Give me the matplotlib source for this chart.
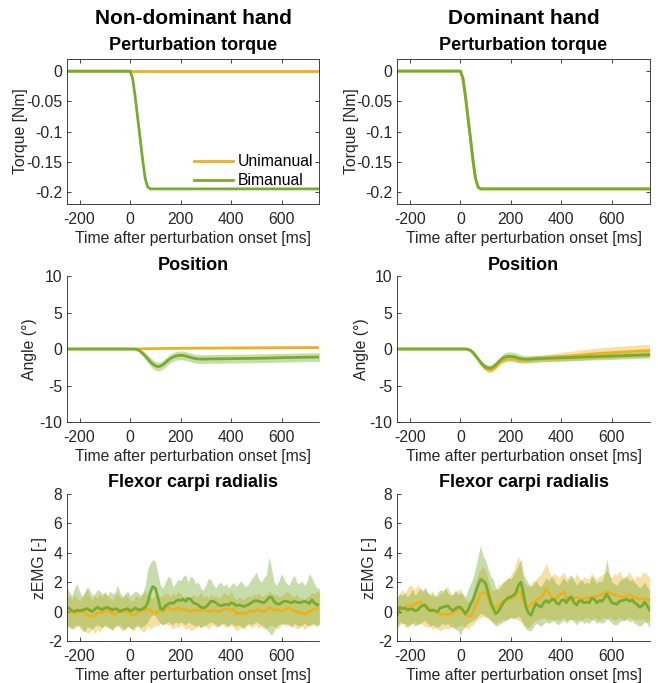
import numpy as np
import matplotlib
matplotlib.use("Agg")
import matplotlib.pyplot as plt
from matplotlib.ticker import FixedLocator, FixedFormatter

plt.rcParams["font.family"] = ["Liberation Sans", "DejaVu Sans"]
plt.rcParams["axes.unicode_minus"] = False

UNI = "#EDB120"
BI = "#77AC30"
AX = "#262626"
FS = 11.3
TFS = 13

# ---------------------------------------------------------------- data
time_ms = np.arange(-250, 751, 10)

x_ticks = [-200, 0, 200, 400, 600]
x_ticklabels = ["-200", "0", "200", "400", "600"]
torque_ticks = [-0.2, -0.15, -0.1, -0.05, 0]
torque_ticklabels = ["-0.2", "-0.15", "-0.1", "-0.05", "0"]
angle_ticks = [-10, -5, 0, 5, 10]
angle_ticklabels = ["-10", "-5", "0", "5", "10"]
emg_ticks = [-2, 0, 2, 4, 6, 8]
emg_ticklabels = ["-2", "0", "2", "4", "6", "8"]

conditions = ["Unimanual", "Bimanual"]
hands = ["Non-dominant hand", "Dominant hand"]

# perturbation torque [Nm]
torque_nd_uni = [0.0] * 101
torque_nd_bi = ([0.0] * 26
                + [-0.012, -0.042, -0.077, -0.112, -0.148, -0.178, -0.192, -0.195]
                + [-0.195] * 67)
torque_d_uni = ([0.0] * 26
                + [-0.012, -0.042, -0.077, -0.112, -0.148, -0.178, -0.192, -0.195]
                + [-0.195] * 67)
torque_d_bi = ([0.0] * 26
               + [-0.012, -0.042, -0.077, -0.112, -0.148, -0.178, -0.192, -0.195]
               + [-0.195] * 67)

# wrist angle [deg], mean and spread
pos_nd_uni = ([0.0] * 28
              + [0.0, 0.01, 0.02, 0.03, 0.04, 0.05, 0.05, 0.06, 0.06, 0.07,
                 0.07, 0.08, 0.08, 0.08, 0.09, 0.09, 0.09, 0.1]
              + [0.1, 0.1, 0.1, 0.11, 0.11, 0.11, 0.11, 0.12, 0.12, 0.12,
                 0.12, 0.12, 0.13, 0.13, 0.13, 0.13, 0.13, 0.14, 0.14, 0.14]
              + [0.14, 0.14, 0.15, 0.15, 0.15, 0.15, 0.15, 0.16, 0.16, 0.16,
                 0.16, 0.16, 0.17, 0.17, 0.17, 0.17, 0.17, 0.18, 0.18, 0.18,
                 0.18, 0.18, 0.18, 0.19, 0.19, 0.19, 0.19, 0.19, 0.19, 0.2,
                 0.2, 0.2, 0.2, 0.2, 0.2])
pos_nd_uni_sd = [0.0] * 28 + [0.04] * 73

pos_nd_bi = ([0.0] * 27
             + [-0.02, -0.1, -0.3, -0.6, -0.95, -1.35, -1.75, -2.05, -2.3, -2.4,
                -2.35, -2.15, -1.85, -1.55, -1.3, -1.1, -0.97, -0.9, -0.86, -0.88,
                -0.95, -1.05, -1.15, -1.25, -1.32, -1.36, -1.38, -1.38, -1.37]
             + [-1.36, -1.36, -1.35, -1.35, -1.35, -1.34, -1.34, -1.33, -1.33, -1.32,
                -1.32, -1.31, -1.31, -1.3, -1.3, -1.29, -1.29, -1.28, -1.28, -1.27,
                -1.27, -1.26, -1.25, -1.25, -1.24, -1.23, -1.22, -1.21, -1.2, -1.19,
                -1.18, -1.17, -1.17, -1.16, -1.15, -1.15, -1.14, -1.13, -1.13, -1.12,
                -1.12, -1.11, -1.11, -1.1, -1.1])
pos_nd_bi_sd = ([0.0] * 27 + [0.05, 0.12, 0.25, 0.35, 0.45, 0.5]
                + [0.6] * 23 + [0.6] * 45)

pos_d_uni = ([0.0] * 28
             + [-0.05, -0.2, -0.5, -0.95, -1.4, -1.9, -2.35, -2.65, -2.85, -2.9,
                -2.75, -2.45, -2.1, -1.75, -1.5, -1.35, -1.28, -1.28, -1.32, -1.4,
                -1.48, -1.52, -1.52, -1.5, -1.47, -1.42, -1.38, -1.35]
             + [-1.32, -1.29, -1.26, -1.23, -1.2, -1.17, -1.14, -1.11, -1.08, -1.05,
                -1.02, -0.99, -0.96, -0.93, -0.9, -0.87, -0.84, -0.81, -0.78, -0.75,
                -0.72, -0.69, -0.66, -0.63, -0.6, -0.58, -0.56, -0.54, -0.52, -0.5,
                -0.48, -0.46, -0.44, -0.42, -0.4, -0.38, -0.36, -0.34, -0.32, -0.3,
                -0.28, -0.26, -0.24, -0.22, -0.2])
pos_d_uni_sd = ([0.0] * 28 + [0.05, 0.1, 0.15, 0.2, 0.25, 0.3] + [0.35] * 8 + [0.4] * 14
                + [0.42, 0.44, 0.46, 0.48, 0.5, 0.52, 0.54, 0.56, 0.58, 0.6,
                   0.61, 0.62, 0.63, 0.64, 0.65, 0.66, 0.67, 0.68, 0.69, 0.7,
                   0.71, 0.72, 0.73, 0.74, 0.75, 0.76, 0.77, 0.78, 0.79, 0.8,
                   0.8, 0.81, 0.81, 0.82, 0.82, 0.83, 0.83, 0.84, 0.84, 0.85,
                   0.85, 0.85, 0.85, 0.85, 0.85])

pos_d_bi = ([0.0] * 28
            + [-0.05, -0.2, -0.5, -0.9, -1.35, -1.8, -2.2, -2.45, -2.6, -2.6,
               -2.45, -2.15, -1.8, -1.45, -1.2, -1.05, -1.0, -1.0, -1.05, -1.15,
               -1.25, -1.32, -1.37, -1.4, -1.4, -1.38, -1.36, -1.33]
            + [-1.32, -1.31, -1.29, -1.28, -1.27, -1.26, -1.24, -1.23, -1.22, -1.2,
               -1.19, -1.18, -1.17, -1.16, -1.15, -1.13, -1.12, -1.11, -1.1, -1.08,
               -1.07, -1.06, -1.05, -1.04, -1.03, -1.02, -1.0, -0.99, -0.98, -0.97,
               -0.96, -0.95, -0.93, -0.92, -0.91, -0.9, -0.88, -0.87, -0.86, -0.85,
               -0.84, -0.83, -0.82, -0.81, -0.8])
pos_d_bi_sd = ([0.0] * 28 + [0.05, 0.1, 0.15, 0.2, 0.25, 0.3] + [0.4] * 8
               + [0.6] * 7 + [0.5] * 7 + [0.45] * 45)

# flexor carpi radialis zEMG: mean, lower and upper bound
emg_nd_uni = [
    0.0, 0.05, -0.05, -0.1, -0.05, 0.0, 0.05, -0.05, -0.25, -0.3,
    -0.3, -0.25, -0.1, -0.05, -0.05, 0.05, 0.1, 0.0, -0.15, -0.2,
    -0.05, 0.1, 0.05, -0.05, 0.0, -0.1, -0.25, -0.2, -0.05, 0.0,
    0.05, 0.1, 0.15, 0.1, -0.05, -0.1, 0.0, 0.05, 0.0, 0.2,
    0.3, 0.2, 0.1, 0.15, 0.25, 0.2, 0.1, 0.15, 0.05, 0.0,
    0.1, 0.1, 0.05, 0.1, 0.15, 0.1, 0.0, 0.05, 0.1, 0.05,
    0.0, 0.05, 0.15, 0.2, 0.15, 0.1, 0.15, -0.15, -0.1, -0.15,
    -0.1, -0.15, 0.0, 0.05, 0.0, 0.1, 0.15, 0.05, 0.0, 0.1,
    0.3, 0.2, 0.1, 0.15, 0.1, 0.05, 0.1, 0.2, 0.25, 0.15,
    0.05, 0.0, -0.05, -0.1, -0.15, -0.15, 0.0, 0.1, 0.15, 0.2,
    0.25]
emg_nd_uni_hi = [
    0.9, 1.1, 0.8, 1.2, 0.9, 0.7, 1.0, 1.3, 1.5, 1.0,
    0.8, 1.1, 0.9, 1.2, 1.0, 1.4, 1.1, 0.9, 0.8, 1.1,
    1.3, 1.0, 0.9, 1.2, 1.0, 0.8, 0.7, 1.0, 1.1, 0.9,
    1.2, 1.4, 1.1, 1.0, 0.9, 1.2, 0.8, 1.0, 1.1, 1.3,
    1.2, 1.0, 1.3, 1.1, 1.4, 1.2, 1.0, 1.1, 0.9, 1.0,
    1.2, 1.0, 1.1, 1.3, 1.0, 1.1, 0.9, 1.2, 1.0, 1.1,
    0.9, 1.0, 1.3, 1.2, 1.1, 1.4, 1.0, 0.8, 1.0, 0.9,
    0.8, 1.0, 1.1, 1.0, 1.2, 1.1, 1.3, 1.0, 1.1, 1.2,
    1.4, 1.3, 1.1, 1.2, 1.0, 1.1, 1.2, 1.4, 1.3, 1.1,
    1.0, 1.2, 0.9, 1.0, 0.8, 1.0, 1.1, 1.3, 1.2, 1.4,
    1.3]
emg_nd_uni_lo = [
    -0.9, -1.0, -1.1, -1.2, -1.0, -0.9, -1.1, -1.3, -1.5, -1.4,
    -1.2, -1.5, -1.2, -1.4, -1.1, -1.0, -1.1, -1.2, -1.3, -1.1,
    -1.0, -0.9, -1.1, -1.2, -1.0, -1.1, -1.3, -1.2, -1.0, -1.2,
    -1.4, -1.3, -1.0, -1.2, -1.1, -0.9, -1.0, -0.8, -0.9, -0.8,
    -0.9, -1.0, -1.2, -1.0, -1.1, -0.9, -1.0, -1.2, -1.1, -1.3,
    -1.2, -1.1, -1.0, -1.1, -0.9, -1.0, -1.2, -1.0, -0.9, -1.1,
    -1.0, -0.8, -0.9, -1.1, -1.0, -0.9, -1.1, -1.3, -1.2, -1.1,
    -1.2, -1.0, -0.9, -1.1, -1.0, -0.9, -1.1, -1.0, -1.2, -1.1,
    -1.0, -0.9, -1.0, -1.2, -1.1, -0.9, -0.8, -1.0, -0.9, -1.1,
    -1.0, -1.2, -1.1, -1.0, -1.2, -1.1, -0.9, -1.0, -0.8, -0.9,
    -0.8]

emg_nd_bi = [
    0.3, 0.2, 0.05, 0.0, 0.1, 0.05, 0.1, 0.15, 0.2, 0.1,
    0.0, 0.15, 0.3, 0.2, 0.15, 0.25, 0.3, 0.2, 0.1, 0.2,
    0.15, 0.0, 0.1, 0.15, 0.2, 0.05, 0.1, 0.25, 0.15, 0.1,
    0.2, 0.3, 0.6, 1.3, 1.7, 1.6, 1.0, 0.2, 0.15, 0.4,
    0.5, 0.6, 0.55, 0.7, 0.8, 0.75, 0.85, 0.7, 0.9, 0.85,
    0.6, 0.55, 0.45, 0.3, 0.25, 0.3, 0.5, 0.7, 0.7, 0.6,
    0.45, 0.4, 0.45, 0.5, 0.45, 0.6, 0.55, 0.4, 0.45, 0.4,
    0.35, 0.4, 0.5, 0.6, 0.7, 0.75, 0.7, 0.65, 0.6, 0.75,
    0.95, 1.0, 0.7, 0.55, 0.5, 0.6, 0.7, 0.7, 0.65, 0.6,
    0.7, 0.65, 0.6, 0.65, 0.7, 0.65, 0.55, 0.8, 0.6, 0.45,
    0.5]
emg_nd_bi_hi = [
    1.7, 1.3, 1.1, 1.6, 1.9, 1.4, 1.0, 1.3, 1.7, 1.5,
    1.1, 1.2, 1.5, 1.4, 1.2, 1.3, 1.1, 1.4, 1.2, 1.3,
    1.8, 1.3, 1.0, 1.2, 1.4, 1.1, 1.2, 1.4, 1.3, 1.1,
    1.3, 1.8, 2.9, 3.3, 3.55, 3.4, 2.6, 1.8, 1.6, 2.0,
    2.4, 2.3, 1.7, 1.9, 2.2, 2.1, 2.4, 2.5, 2.0, 2.4,
    2.3, 1.9, 2.0, 1.6, 1.45, 1.8, 2.25, 2.2, 1.8, 1.6,
    1.9, 2.0, 1.7, 1.9, 1.6, 1.8, 2.0, 1.7, 1.9, 2.1,
    1.8, 1.7, 1.9, 2.2, 2.4, 2.7, 2.2, 2.0, 2.3, 2.5,
    3.7, 3.0, 2.0, 1.8, 2.1, 2.6, 2.2, 1.9, 1.8, 2.2,
    2.5, 2.0, 1.9, 2.1, 1.8, 2.0, 2.6, 2.3, 1.9, 1.6,
    1.6]
emg_nd_bi_lo = [
    -1.0, -1.1, -1.2, -1.0, -0.9, -1.1, -1.3, -1.4, -1.0, -1.1,
    -1.2, -1.0, -0.9, -1.0, -1.1, -0.9, -1.0, -1.1, -1.2, -1.0,
    -0.9, -1.1, -1.3, -1.2, -1.0, -1.1, -1.2, -1.0, -0.9, -1.1,
    -1.0, -0.9, -0.7, -0.4, -0.2, -0.3, -0.6, -0.8, -0.9, -0.8,
    -0.7, -0.8, -0.9, -0.7, -0.8, -0.7, -0.8, -0.9, -0.7, -0.8,
    -0.9, -1.0, -0.9, -1.1, -1.0, -0.9, -0.8, -0.7, -0.8, -0.9,
    -1.0, -0.9, -0.8, -0.9, -1.0, -0.8, -0.9, -1.0, -0.9, -1.0,
    -1.1, -0.9, -0.8, -0.9, -0.8, -0.7, -0.8, -0.9, -1.0, -1.2,
    -1.4, -1.6, -1.3, -1.0, -0.9, -0.8, -0.9, -0.8, -0.9, -1.0,
    -0.8, -0.9, -1.0, -0.9, -0.8, -0.9, -1.0, -0.8, -0.9, -1.0,
    -0.9]

emg_d_uni = [
    0.0, 0.1, 0.2, 0.3, 0.35, 0.4, 0.45, 0.5, 0.6, 0.65,
    0.5, 0.35, 0.3, 0.2, 0.15, 0.05, -0.1, -0.2, -0.2, -0.15,
    -0.2, -0.15, -0.1, 0.0, 0.15, 0.2, 0.0, -0.2, -0.3, -0.35,
    -0.1, 0.4, 0.8, 1.2, 1.3, 1.3, 0.9, 0.4, 0.2, 0.25,
    0.4, 0.55, 0.7, 0.8, 0.85, 0.9, 1.0, 1.1, 1.4, 1.2,
    0.7, 0.4, 0.3, 0.5, 0.6, 0.8, 0.85, 1.0, 1.2, 1.55,
    1.3, 1.0, 0.8, 0.9, 1.1, 1.2, 1.35, 0.9, 0.8, 0.85,
    0.9, 1.0, 0.9, 0.85, 0.9, 0.95, 0.9, 1.0, 1.05, 1.0,
    1.1, 1.2, 1.25, 1.35, 1.3, 1.2, 1.15, 1.1, 1.05, 1.0,
    1.0, 1.1, 1.2, 1.0, 0.95, 0.9, 0.9, 0.85, 0.9, 0.85,
    0.75]
emg_d_uni_hi = [
    1.0, 1.3, 1.5, 1.2, 1.6, 1.8, 1.7, 1.5, 1.8, 1.6,
    1.4, 1.5, 1.3, 1.2, 1.4, 1.1, 1.0, 1.3, 1.2, 1.6,
    1.7, 1.3, 1.1, 1.5, 1.4, 1.6, 1.1, 0.8, 0.7, 0.8,
    1.3, 2.0, 2.6, 2.9, 3.1, 2.8, 2.2, 1.6, 1.4, 1.5,
    1.8, 1.9, 2.0, 2.2, 2.3, 2.5, 2.8, 3.3, 3.8, 3.0,
    2.2, 1.8, 1.7, 1.9, 2.1, 2.2, 2.4, 2.6, 2.9, 3.3,
    2.8, 2.4, 2.6, 2.5, 2.3, 2.5, 2.7, 2.3, 2.1, 2.4,
    2.2, 2.6, 2.3, 2.1, 2.4, 2.2, 2.3, 2.6, 2.4, 2.2,
    2.4, 2.5, 2.6, 2.8, 2.5, 2.3, 2.6, 2.5, 2.8, 2.4,
    2.3, 2.5, 2.7, 2.4, 2.2, 2.5, 2.3, 2.6, 2.7, 2.5,
    2.3]
emg_d_uni_lo = [
    -1.0, -0.9, -0.8, -1.0, -1.1, -0.9, -0.8, -0.7, -0.9, -0.8,
    -0.9, -1.0, -1.1, -1.0, -1.2, -1.1, -1.2, -1.3, -1.2, -1.1,
    -1.2, -1.1, -1.0, -1.1, -1.0, -0.9, -1.0, -1.1, -1.2, -1.0,
    -0.9, -0.7, -0.5, -0.4, -0.35, -0.4, -0.5, -0.6, -0.7, -0.8,
    -0.7, -0.6, -0.5, -0.6, -0.5, -0.4, -0.4, -0.5, -0.6, -0.7,
    -0.9, -1.0, -1.1, -0.9, -0.7, -0.6, -0.5, -0.5, -0.4, -0.5,
    -0.6, -0.5, -0.6, -0.5, -0.6, -0.5, -0.4, -0.6, -0.5, -0.6,
    -0.5, -0.6, -0.5, -0.6, -0.5, -0.4, -0.5, -0.5, -0.4, -0.5,
    -0.6, -0.5, -0.4, -0.5, -0.4, -0.5, -0.6, -0.5, -0.4, -0.5,
    -0.6, -0.5, -0.4, -0.5, -0.6, -0.5, -0.6, -0.5, -0.6, -0.7,
    -0.6]

emg_d_bi = [
    -0.2, 0.3, 0.2, 0.25, 0.1, 0.15, 0.2, 0.05, 0.1, 0.3,
    0.4, 0.45, 0.2, 0.05, 0.1, 0.05, 0.0, 0.25, 0.3, 0.35,
    0.4, 0.2, 0.05, 0.2, 0.3, 0.3, 0.1, -0.15, 0.1, 0.5,
    0.8, 1.3, 1.8, 2.2, 2.1, 1.9, 1.3, 0.65, 0.2, -0.15,
    0.0, 0.3, 0.6, 0.8, 0.95, 1.0, 1.1, 1.3, 1.8, 2.0,
    1.2, 0.3, -0.1, -0.25, 0.2, 0.55, 0.4, 0.3, 0.6, 0.75,
    0.6, 0.8, 0.85, 0.6, 0.5, 0.75, 0.8, 0.6, 0.9, 1.0,
    0.6, 0.45, 0.7, 0.75, 0.6, 0.65, 0.6, 0.9, 0.85, 0.6,
    0.75, 0.7, 0.9, 1.2, 0.9, 0.6, 0.55, 0.5, 0.7, 0.75,
    0.8, 0.85, 0.7, 0.8, 0.6, 0.5, 0.3, 0.4, 0.65, 0.4,
    0.1]
emg_d_bi_hi = [
    1.0, 1.2, 1.1, 1.3, 1.0, 1.2, 1.5, 1.1, 1.3, 1.6,
    1.4, 1.7, 1.3, 1.1, 1.2, 1.0, 1.3, 1.5, 1.4, 1.6,
    1.3, 1.1, 1.2, 1.4, 1.2, 1.3, 1.2, 1.0, 1.5, 1.9,
    2.3, 3.0, 3.8, 4.5, 3.8, 3.5, 2.9, 2.4, 2.2, 1.6,
    1.5, 1.7, 2.0, 2.1, 2.3, 2.2, 2.5, 2.8, 3.2, 3.6,
    2.6, 2.2, 1.9, 1.7, 1.9, 2.1, 1.8, 1.7, 2.0, 2.3,
    2.1, 2.4, 2.2, 1.9, 1.8, 2.1, 2.3, 2.0, 2.4, 2.5,
    2.1, 1.8, 2.0, 2.2, 1.9, 2.0, 1.9, 2.4, 2.2, 1.9,
    2.1, 2.0, 2.5, 3.6, 2.6, 2.0, 1.9, 1.8, 2.1, 2.2,
    2.3, 2.4, 2.1, 2.2, 2.0, 1.8, 1.6, 1.8, 2.0, 1.7,
    1.4]
emg_d_bi_lo = [
    -1.2, -0.7, -0.8, -0.8, -1.0, -0.9, -0.8, -1.0, -0.9, -0.8,
    -0.7, -0.6, -0.8, -1.0, -0.9, -1.0, -1.1, -0.9, -0.8, -0.9,
    -0.8, -1.0, -1.1, -1.2, -1.3, -1.6, -1.2, -1.0, -0.8, -0.7,
    -0.6, -0.5, -0.3, -0.1, -0.2, -0.3, -0.4, -0.6, -0.8, -1.0,
    -0.9, -0.8, -0.7, -0.6, -0.5, -0.4, -0.5, -0.4, -0.3, -0.5,
    -0.9, -1.2, -1.3, -1.3, -1.0, -0.8, -0.9, -1.0, -0.8, -0.7,
    -0.8, -0.7, -0.6, -0.8, -0.9, -0.7, -0.6, -0.8, -0.6, -0.5,
    -0.7, -0.9, -0.7, -0.6, -0.8, -0.7, -0.8, -0.6, -0.6, -0.8,
    -0.7, -0.8, -0.7, -0.5, -0.6, -0.8, -0.9, -0.9, -0.7, -0.6,
    -0.6, -0.5, -0.7, -0.6, -0.8, -0.9, -1.0, -0.9, -0.7, -0.8,
    -1.1]

# ---------------------------------------------------------------- layout
fig = plt.figure(figsize=(6.58, 6.83), dpi=100)
col_left = [0.1018, 0.6038]
col_width = 0.3836
row_bottom = [0.7013, 0.3821, 0.0615]
row_height = [0.2123, 0.2138, 0.2152]
ylabel_x = [[-0.186, -0.147, -0.107], [-0.182, -0.143, -0.109]]


def style_axes(ax, boxed, yticks, yticklabels, ylim):
    ax.set_xlim(-250, 750)
    ax.set_ylim(*ylim)
    ax.xaxis.set_major_locator(FixedLocator(x_ticks))
    ax.xaxis.set_major_formatter(FixedFormatter(x_ticklabels))
    ax.yaxis.set_major_locator(FixedLocator(yticks))
    ax.yaxis.set_major_formatter(FixedFormatter(yticklabels))
    ax.tick_params(direction="in", length=3, width=0.6, colors=AX,
                   labelsize=FS, top=boxed, right=boxed)
    ax.tick_params(axis="x", pad=5.5)
    for name, sp in ax.spines.items():
        sp.set_color(AX)
        sp.set_linewidth(0.6)
    if not boxed:
        ax.spines["top"].set_visible(False)
        ax.spines["right"].set_visible(False)
    ax.set_xlabel("Time after perturbation onset [ms]", fontsize=FS, color=AX,
                  labelpad=3)


def band(ax, lo, hi, color):
    ax.fill_between(time_ms, lo, hi, color=color, alpha=0.4, linewidth=0)


torque_sets = [(torque_nd_uni, torque_nd_bi), (torque_d_uni, torque_d_bi)]
pos_sets = [((pos_nd_uni, pos_nd_uni_sd), (pos_nd_bi, pos_nd_bi_sd)),
            ((pos_d_uni, pos_d_uni_sd), (pos_d_bi, pos_d_bi_sd))]
emg_sets = [((emg_nd_uni, emg_nd_uni_lo, emg_nd_uni_hi),
             (emg_nd_bi, emg_nd_bi_lo, emg_nd_bi_hi)),
            ((emg_d_uni, emg_d_uni_lo, emg_d_uni_hi),
             (emg_d_bi, emg_d_bi_lo, emg_d_bi_hi))]

for c in range(2):
    left = col_left[c]

    # torque
    ax = fig.add_axes([left, row_bottom[0], col_width, row_height[0]])
    uni, bi = torque_sets[c]
    ax.plot(time_ms, uni, color=UNI, lw=2, label=conditions[0])
    ax.plot(time_ms, bi, color=BI, lw=2, label=conditions[1])
    style_axes(ax, True, torque_ticks, torque_ticklabels, (-0.22, 0.02))
    ax.set_ylabel("Torque [Nm]", fontsize=FS, color=AX, va="center")
    ax.yaxis.set_label_coords(ylabel_x[c][0], 0.5)
    ax.set_title("Perturbation torque", fontsize=TFS, fontweight="bold",
                 y=1.09, va="center", pad=0)
    if c == 0:
        ax.legend(loc="lower right", bbox_to_anchor=(0.975, 0.11),
                  frameon=False, fontsize=FS, handlelength=2.5,
                  handletextpad=0.3, labelspacing=0.25, borderpad=0,
                  borderaxespad=0)
    fig.text(left + col_width / 2, 1 - 18 / 683, hands[c], fontsize=15,
             fontweight="bold", ha="center", va="center")

    # position
    ax = fig.add_axes([left, row_bottom[1], col_width, row_height[1]])
    (um, us), (bm, bs) = pos_sets[c]
    um, us, bm, bs = map(np.asarray, (um, us, bm, bs))
    band(ax, um - us, um + us, UNI)
    band(ax, bm - bs, bm + bs, BI)
    ax.plot(time_ms, um, color=UNI, lw=2)
    ax.plot(time_ms, bm, color=BI, lw=2)
    style_axes(ax, False, angle_ticks, angle_ticklabels, (-10, 10))
    ax.set_ylabel("Angle (°)", fontsize=FS, color=AX, va="center")
    ax.yaxis.set_label_coords(ylabel_x[c][1], 0.5)
    ax.set_title("Position", fontsize=TFS, fontweight="bold", y=1.075,
                 va="center", pad=0)

    # EMG
    ax = fig.add_axes([left, row_bottom[2], col_width, row_height[2]])
    (um, ul, uh), (bm, bl, bh) = emg_sets[c]
    band(ax, ul, uh, UNI)
    band(ax, bl, bh, BI)
    ax.plot(time_ms, um, color=UNI, lw=2)
    ax.plot(time_ms, bm, color=BI, lw=2)
    style_axes(ax, False, emg_ticks, emg_ticklabels, (-2, 8))
    ax.set_ylabel("zEMG [-]", fontsize=FS, color=AX, va="center")
    ax.yaxis.set_label_coords(ylabel_x[c][2], 0.5)
    ax.set_title("Flexor carpi radialis", fontsize=TFS, fontweight="bold",
                 y=1.08, va="center", pad=0)

fig.savefig("out.png", dpi=100)
